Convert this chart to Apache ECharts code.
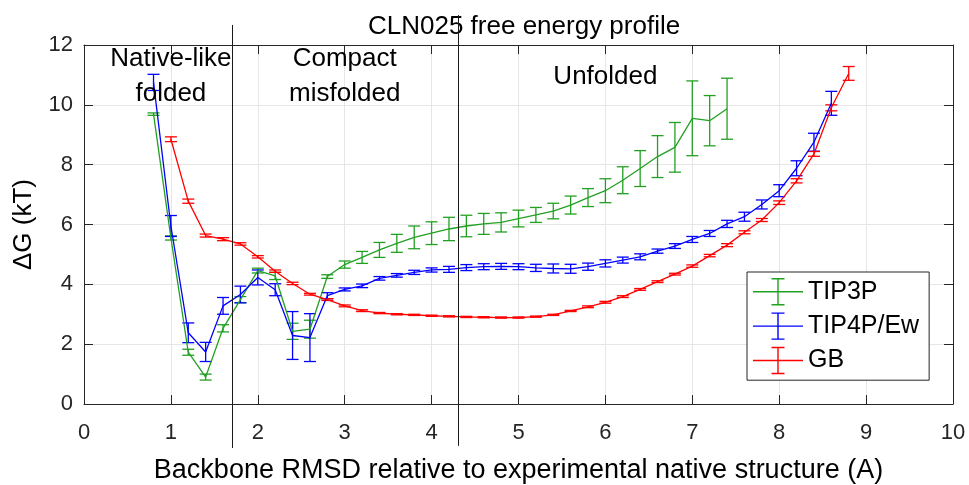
<!DOCTYPE html>
<html>
<head>
<meta charset="utf-8">
<script src="https://cdn.jsdelivr.net/npm/echarts@6/dist/echarts.min.js"></script>
<style>
  html, body { margin: 0; padding: 0; background: #fff; }
  #chart { width: 969px; height: 485px; }
</style>
</head>
<body>
<div id="chart"></div>
<script>
// --- data ---
const rmsdTip3p = [0.8, 1.0, 1.2, 1.4, 1.6, 1.8, 2.0, 2.2, 2.4, 2.6, 2.8, 3.0, 3.2, 3.4, 3.6, 3.8, 4.0,
  4.2, 4.4, 4.6, 4.8, 5.0, 5.2, 5.4, 5.6, 5.8, 6.0, 6.2, 6.4, 6.6, 6.8, 7.0, 7.2, 7.4]
const dgTip3p = [9.69, 5.55, 1.73, 0.90, 2.53, 3.49, 4.46, 4.28, 2.43, 2.50, 4.26, 4.66, 4.90, 5.15, 5.37, 5.57, 5.71,
  5.85, 5.95, 6.02, 6.07, 6.20, 6.32, 6.45, 6.65, 6.90, 7.13, 7.48, 7.87, 8.27, 8.58, 9.55, 9.47, 9.87]
const errTip3p = [0.04, 0.07, 0.10, 0.10, 0.12, 0.10, 0.08, 0.12, 0.27, 0.30, 0.06, 0.12, 0.20, 0.25, 0.30, 0.38, 0.38,
  0.39, 0.36, 0.35, 0.32, 0.28, 0.25, 0.26, 0.30, 0.30, 0.40, 0.45, 0.60, 0.70, 0.83, 1.25, 0.84, 1.02]

const rmsdTip4p = [0.8, 1.0, 1.2, 1.4, 1.6, 1.8, 2.0, 2.2, 2.4, 2.6, 2.8, 3.0, 3.2, 3.4, 3.6, 3.8, 4.0, 4.2, 4.4, 4.6,
  4.8, 5.0, 5.2, 5.4, 5.6, 5.8, 6.0, 6.2, 6.4, 6.6, 6.8, 7.0, 7.2, 7.4, 7.6, 7.8, 8.0, 8.2, 8.4, 8.6]
const dgTip4p = [10.75, 5.95, 2.38, 1.74, 3.28, 3.66, 4.23, 3.82, 2.29, 2.22, 3.62, 3.83, 3.95, 4.20, 4.30, 4.40, 4.48, 4.50, 4.56, 4.59,
  4.60, 4.59, 4.55, 4.53, 4.52, 4.59, 4.70, 4.81, 4.92, 5.11, 5.28, 5.50, 5.70, 6.02, 6.26, 6.67, 7.13, 7.88, 8.75, 10.05]
const errTip4p = [0.27, 0.35, 0.33, 0.32, 0.28, 0.28, 0.25, 0.20, 0.80, 0.80, 0.10, 0.05, 0.06, 0.06, 0.06, 0.07, 0.07, 0.10, 0.10, 0.10,
  0.10, 0.10, 0.12, 0.15, 0.15, 0.12, 0.12, 0.10, 0.10, 0.07, 0.08, 0.10, 0.10, 0.12, 0.15, 0.15, 0.20, 0.25, 0.30, 0.40]

const rmsdGb = [1.0, 1.2, 1.4, 1.6, 1.8, 2.0, 2.2, 2.4, 2.6, 2.8, 3.0, 3.2, 3.4, 3.6, 3.8, 4.0, 4.2, 4.4, 4.6, 4.8,
  5.0, 5.2, 5.4, 5.6, 5.8, 6.0, 6.2, 6.4, 6.6, 6.8, 7.0, 7.2, 7.4, 7.6, 7.8, 8.0, 8.2, 8.4, 8.6, 8.8]
const dgGb = [8.85, 6.78, 5.63, 5.51, 5.35, 4.92, 4.44, 4.03, 3.67, 3.49, 3.28, 3.12, 3.04, 3.00, 2.98, 2.95, 2.93, 2.91, 2.90, 2.89,
  2.89, 2.92, 2.98, 3.11, 3.25, 3.40, 3.59, 3.83, 4.09, 4.34, 4.61, 4.96, 5.31, 5.74, 6.15, 6.73, 7.46, 8.36, 9.90, 11.05]
const errGb = [0.08, 0.07, 0.05, 0.05, 0.04, 0.04, 0.04, 0.04, 0.03, 0.03, 0.03, 0.03, 0.02, 0.02, 0.02, 0.02, 0.02, 0.02, 0.02, 0.02,
  0.02, 0.02, 0.02, 0.02, 0.03, 0.03, 0.03, 0.03, 0.03, 0.03, 0.04, 0.04, 0.05, 0.05, 0.05, 0.06, 0.07, 0.08, 0.10, 0.23]

const xTicks = [0, 10, 1]      // min, max, interval
const yTicks = [0, 12, 2]

// region dividers and their labels (data units)
const dividerX = [1.7, 4.3]
const dividerTop = [12.67, 13.0]
const dividerBottom = [-1.47, -1.4]
const regionNames = ['Native-like\nfolded', 'Compact\nmisfolded', 'Unfolded']
const regionX = [1.0, 3.0, 6.0]
const regionY = [10.95, 10.95, 10.95]

const FONT = '"Liberation Sans", Arial, Helvetica, sans-serif'
const AXIS = '#262626'

const models = [
  { name: 'TIP3P', color: '#22a022', x: rmsdTip3p, y: dgTip3p, e: errTip3p },
  { name: 'TIP4P/Ew', color: '#0000ff', x: rmsdTip4p, y: dgTip4p, e: errTip4p },
  { name: 'GB', color: '#ff0000', x: rmsdGb, y: dgGb, e: errGb }
]

// --- error bar drawing ---
const renderErr = (params, api) => {
  const x = api.value(0)
  const top = api.coord([x, api.value(2)])
  const bot = api.coord([x, api.value(1)])
  const hw = 6
  const style = { stroke: api.visual('color'), lineWidth: 1.3 }
  return {
    type: 'group',
    children: [
      { type: 'line', shape: { x1: top[0], y1: top[1], x2: bot[0], y2: bot[1] }, style },
      { type: 'line', shape: { x1: top[0] - hw, y1: top[1], x2: top[0] + hw, y2: top[1] }, style },
      { type: 'line', shape: { x1: bot[0] - hw, y1: bot[1], x2: bot[0] + hw, y2: bot[1] }, style }
    ]
  }
}

const series = []
models.forEach(m => {
  series.push({
    name: m.name, type: 'line', data: m.x.map((v, i) => [v, m.y[i]]),
    showSymbol: false, symbol: 'none', color: m.color,
    lineStyle: { width: 1.3, color: m.color }, z: 3
  })
  series.push({
    name: m.name, type: 'custom', renderItem: renderErr,
    data: m.x.map((v, i) => [v, m.y[i] - m.e[i], m.y[i] + m.e[i]]),
    encode: { x: 0, y: [1, 2] }, itemStyle: { color: m.color }, z: 3
  })
})

// legend icon: horizontal line with an error bar in the middle
const legendIcon = 'path://M0 13.3H50V14.7H0Z M24.3 1H25.7V27H24.3Z M18.5 0.3H31.5V1.7H18.5Z M18.5 26.3H31.5V27.7H18.5Z'

const baseX = {
  type: 'value', min: xTicks[0], max: xTicks[1], interval: xTicks[2]
}
const baseY = {
  type: 'value', min: yTicks[0], max: yTicks[1], interval: yTicks[2]
}

const myChart = echarts.init(document.getElementById('chart'))
myChart.setOption({
  animation: false,
  backgroundColor: '#fff',
  title: {
    text: 'CLN025 free energy profile', left: 363, top: 9,
    textStyle: { fontFamily: FONT, fontSize: 26, fontWeight: 'normal', color: '#000' }
  },
  grid: { left: 84, right: 16, top: 45, bottom: 81, outerBoundsMode: 'none', containLabel: false },
  legend: {
    data: models.map(m => m.name), orient: 'vertical', left: 747, top: 272,
    icon: legendIcon, itemWidth: 50, itemHeight: 28, itemGap: 7,
    padding: [6, 10, 6, 6], backgroundColor: '#fff',
    borderColor: AXIS, borderWidth: 1, borderRadius: 0, selectedMode: false,
    textStyle: { fontFamily: FONT, fontSize: 25, color: '#000' }
  },
  xAxis: [
    Object.assign({}, baseX, {
      position: 'bottom',
      name: 'Backbone RMSD relative to experimental native structure (A)',
      nameLocation: 'middle', nameGap: 53,
      nameTextStyle: { fontFamily: FONT, fontSize: 27, color: '#000' },
      axisLine: { show: true, onZero: false, lineStyle: { color: AXIS, width: 1 } },
      axisTick: { show: true, inside: true, length: 9, lineStyle: { color: AXIS } },
      axisLabel: { fontFamily: FONT, fontSize: 22, color: AXIS, margin: 18 },
      splitLine: { show: true, lineStyle: { color: '#e6e6e6', width: 1 } }
    }),
    Object.assign({}, baseX, {
      position: 'top',
      axisLine: { show: true, onZero: false, lineStyle: { color: AXIS, width: 1 } },
      axisTick: { show: true, inside: true, length: 9, lineStyle: { color: AXIS } },
      axisLabel: { show: false }, splitLine: { show: false }
    })
  ],
  yAxis: [
    Object.assign({}, baseY, {
      position: 'left',
      name: 'ΔG (kT)', nameLocation: 'middle', nameGap: 47,
      nameTextStyle: { fontFamily: FONT, fontSize: 26, color: '#000' },
      axisLine: { show: true, onZero: false, lineStyle: { color: AXIS, width: 1 } },
      axisTick: { show: true, inside: true, length: 9, lineStyle: { color: AXIS } },
      axisLabel: { fontFamily: FONT, fontSize: 22, color: AXIS, margin: 11 },
      splitLine: { show: true, lineStyle: { color: '#e6e6e6', width: 1 } }
    }),
    Object.assign({}, baseY, {
      position: 'right',
      axisLine: { show: true, onZero: false, lineStyle: { color: AXIS, width: 1 } },
      axisTick: { show: true, inside: true, length: 9, lineStyle: { color: AXIS } },
      axisLabel: { show: false }, splitLine: { show: false }
    })
  ],
  series
})

// --- dividers and region labels, placed through the axes ---
const toPx = (x, y) => myChart.convertToPixel({ xAxisIndex: 0, yAxisIndex: 0 }, [x, y])
const graphics = []
dividerX.forEach((x, i) => {
  const p1 = toPx(x, dividerTop[i])
  const p2 = toPx(x, dividerBottom[i])
  graphics.push({
    type: 'line', z: 10,
    shape: { x1: Math.round(p1[0]) + 0.5, y1: p1[1], x2: Math.round(p2[0]) + 0.5, y2: p2[1] },
    style: { stroke: '#1a1a1a', lineWidth: 1 }
  })
})
regionNames.forEach((t, i) => {
  const p = toPx(regionX[i], regionY[i])
  graphics.push({
    type: 'text', x: p[0], y: p[1], z: 11,
    style: {
      text: t, fontFamily: FONT, fontSize: 26, fill: '#000',
      align: 'center', verticalAlign: 'middle', lineHeight: 35
    }
  })
})
myChart.setOption({ graphic: graphics })
</script>
</body>
</html>
